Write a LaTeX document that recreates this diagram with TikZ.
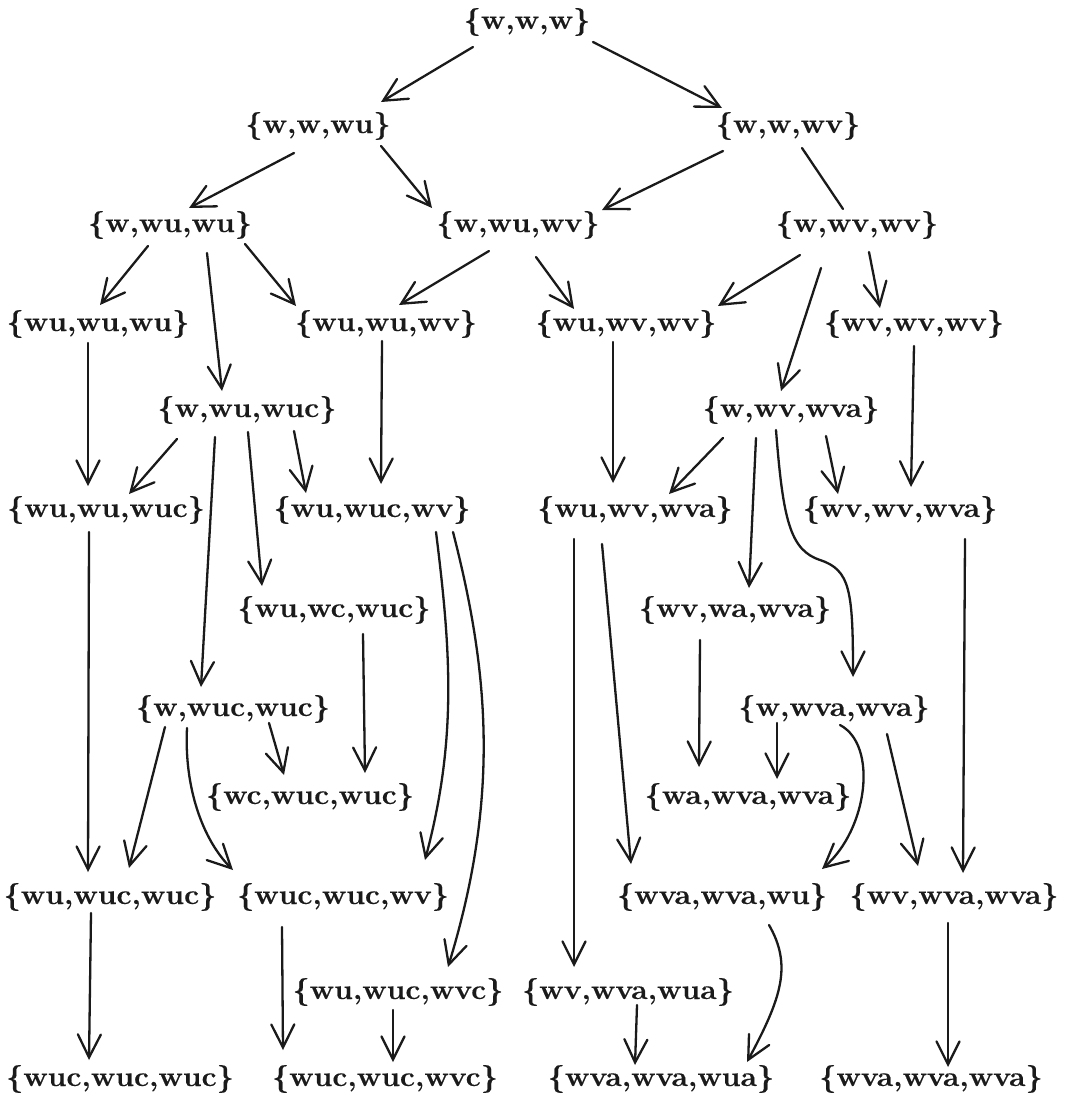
\documentclass[tikz,border=0pt]{standalone}
\usepackage{fontspec}
\setmainfont{Latin Modern Roman}[BoldFeatures={FakeStretch=1.08,FakeBold=0.4}]
\usetikzlibrary{arrows.meta}
\definecolor{ink}{HTML}{1A1A1A}
\begin{document}
\begin{tikzpicture}[x=1pt,y=-1pt,
  lab/.style={inner sep=0pt, text=ink, font=\fontsize{27.8}{30}\selectfont\bfseries},
  plain/.style={draw=ink, line width=2.3pt, line cap=round},
  ed/.style={plain, -{Straight Barb[length=23pt,width=23pt,line cap=round]}}]
\fill[white] (0,0) rectangle (1065,1102);
\useasboundingbox (0,0) rectangle (1065,1102);
% nodes
\node[lab] (www)       at (527,22)   {\{w,w,w\}};
\node[lab] (wwwu)      at (318,126)  {\{w,w,wu\}};
\node[lab] (wwwv)      at (788,126)  {\{w,w,wv\}};
\node[lab] (wwuwu)     at (170,225)  {\{w,wu,wu\}};
\node[lab] (wwuwv)     at (518,225)  {\{w,wu,wv\}};
\node[lab] (wwvwv)     at (857,225)  {\{w,wv,wv\}};
\node[lab] (wuwuwu)    at (98,324)   {\{wu,wu,wu\}};
\node[lab] (wuwuwv)    at (386,324)  {\{wu,wu,wv\}};
\node[lab] (wuwvwv)    at (626,324)  {\{wu,wv,wv\}};
\node[lab] (wvwvwv)    at (914,324)  {\{wv,wv,wv\}};
\node[lab] (wwuwuc)    at (247,410)  {\{w,wu,wuc\}};
\node[lab] (wwvwva)    at (791,410)  {\{w,wv,wva\}};
\node[lab] (wuwuwuc)   at (106,510)  {\{wu,wu,wuc\}};
\node[lab] (wuwucwv)   at (372,510)  {\{wu,wuc,wv\}};
\node[lab] (wuwvwva)   at (635,510)  {\{wu,wv,wva\}};
\node[lab] (wvwvwva)   at (900,510)  {\{wv,wv,wva\}};
\node[lab] (wuwcwuc)   at (334,610)  {\{wu,wc,wuc\}};
\node[lab] (wvwawva)   at (735,610)  {\{wv,wa,wva\}};
\node[lab] (wwucwuc)   at (233,709)  {\{w,wuc,wuc\}};
\node[lab] (wwvawva)   at (834,709)  {\{w,wva,wva\}};
\node[lab] (wcwucwuc)  at (310,797)  {\{wc,wuc,wuc\}};
\node[lab] (wawvawva)  at (748,797)  {\{wa,wva,wva\}};
\node[lab] (wuwucwuc)  at (110,897)  {\{wu,wuc,wuc\}};
\node[lab] (wucwucwv)  at (343,897)  {\{wuc,wuc,wv\}};
\node[lab] (wvawvawu)  at (722,897)  {\{wva,wva,wu\}};
\node[lab] (wvwvawva)  at (954,897)  {\{wv,wva,wva\}};
\node[lab] (wuwucwvc)  at (398,992)  {\{wu,wuc,wvc\}};
\node[lab] (wvwvawua)  at (628,992)  {\{wv,wva,wua\}};
\node[lab] (wucwucwuc) at (120,1079) {\{wuc,wuc,wuc\}};
\node[lab] (wucwucwvc) at (385,1079) {\{wuc,wuc,wvc\}};
\node[lab] (wvawvawua) at (661,1079) {\{wva,wva,wua\}};
\node[lab] (wvawvawva) at (931,1079) {\{wva,wva,wva\}};
\coordinate (sbend) at (820,560);
% edges
\draw[ed] ([shift={(-54,25)}]www.center) -- ([shift={(63,-24)}]wwwu.center);
\draw[ed] ([shift={(66,20)}]www.center) -- ([shift={(-66,-18)}]wwwv.center);
\draw[ed] ([shift={(-24,27)}]wwwu.center) -- ([shift={(19,-17)}]wwuwu.center);
\draw[ed] ([shift={(63,20)}]wwwu.center) -- ([shift={(-86,-17)}]wwuwv.center);
\draw[ed] ([shift={(-65,25)}]wwwv.center) -- ([shift={(84,-15)}]wwuwv.center);
\draw[plain] ([shift={(14,22)}]wwwv.center) -- ([shift={(-14,-16)}]wwvwv.center);
\draw[ed] ([shift={(-22,21)}]wwuwu.center) -- ([shift={(2,-19)}]wuwuwu.center);
\draw[ed] ([shift={(37,28)}]wwuwu.center) -- ([shift={(-25,-19)}]wwuwuc.center);
\draw[ed] ([shift={(75,19)}]wwuwu.center) -- ([shift={(-90,-18)}]wuwuwv.center);
\draw[ed] ([shift={(-29,26)}]wwuwv.center) -- ([shift={(13,-19)}]wuwuwv.center);
\draw[ed] ([shift={(18,32)}]wwuwv.center) -- ([shift={(-52,-15)}]wuwvwv.center);
\draw[ed] ([shift={(-57,30)}]wwvwv.center) -- ([shift={(92,-18)}]wuwvwv.center);
\draw[ed] ([shift={(-36,43)}]wwvwv.center) -- ([shift={(-10,-19)}]wwvwva.center);
\draw[ed] ([shift={(12,27)}]wwvwv.center) -- ([shift={(-34,-16)}]wvwvwv.center);
\draw[ed] ([shift={(-10,19)}]wuwuwu.center) -- ([shift={(-18,-24)}]wuwuwuc.center);
\draw[ed] ([shift={(-4,17)}]wuwuwv.center) -- ([shift={(9,-26)}]wuwucwv.center);
\draw[ed] ([shift={(-13,18)}]wuwvwv.center) -- ([shift={(-22,-27)}]wuwvwva.center);
\draw[ed] ([shift={(0,22)}]wvwvwv.center) -- ([shift={(11,-23)}]wvwvwva.center);
\draw[ed] ([shift={(-70,29)}]wwuwuc.center) -- ([shift={(23,-16)}]wuwuwuc.center);
\draw[ed] ([shift={(-32,27)}]wwuwuc.center) -- ([shift={(-32,-22)}]wwucwuc.center);
\draw[ed] ([shift={(1,22)}]wwuwuc.center) -- ([shift={(-72,-24)}]wuwcwuc.center);
\draw[ed] ([shift={(47,21)}]wwuwuc.center) -- ([shift={(-66,-17)}]wuwucwv.center);
\draw[ed] ([shift={(64,22)}]wuwucwv.center) .. controls +(15,120) and +(32,-120) .. ([shift={(82,-37)}]wucwucwv.center);
\draw[ed] ([shift={(81,22)}]wuwucwv.center) .. controls +(36,140) and +(52,-170) .. ([shift={(50,-25)}]wuwucwvc.center);
\draw[ed] ([shift={(29,24)}]wuwcwuc.center) -- ([shift={(55,-24)}]wcwucwuc.center);
\draw[ed] ([shift={(-68,18)}]wwucwuc.center) -- ([shift={(19,-29)}]wuwucwuc.center);
\draw[ed] ([shift={(-46,19)}]wwucwuc.center) .. controls +(-3,60) and +(-30,-30) .. ([shift={(-110,-27)}]wucwucwv.center);
\draw[ed] ([shift={(36,14)}]wwucwuc.center) -- ([shift={(-26,-22)}]wcwucwuc.center);
\draw[ed] ([shift={(-17,22)}]wuwuwuc.center) -- ([shift={(-22,-25)}]wuwucwuc.center);
\draw[ed] ([shift={(-19,16)}]wuwucwuc.center) -- ([shift={(-31,-19)}]wucwucwuc.center);
\draw[ed] ([shift={(-61,30)}]wucwucwv.center) -- ([shift={(-102,-29)}]wucwucwvc.center);
\draw[ed] ([shift={(-5,18)}]wuwucwvc.center) -- ([shift={(8,-17)}]wucwucwvc.center);
\draw[ed] ([shift={(-68,28)}]wwvwva.center) -- ([shift={(34,-16)}]wuwvwva.center);
\draw[ed] ([shift={(-35,28)}]wwvwva.center) -- ([shift={(14,-22)}]wvwawva.center);
\draw[ed] ([shift={(-15,20)}]wwvwva.center) .. controls +(7,90) and +(-30,-10) .. (sbend)
          .. controls +(30,10) and +(0,-87) .. ([shift={(19,-32)}]wwvawva.center);
\draw[ed] ([shift={(35,26)}]wwvwva.center) -- ([shift={(-62,-16)}]wvwvwva.center);
\draw[ed] ([shift={(-61,29)}]wuwvwva.center) -- ([shift={(-54,-25)}]wvwvawua.center);
\draw[ed] ([shift={(-33,34)}]wuwvwva.center) -- ([shift={(-91,-33)}]wvawvawu.center);
\draw[ed] ([shift={(65,29)}]wvwvwva.center) -- ([shift={(9,-24)}]wvwvawva.center);
\draw[ed] ([shift={(-35,30)}]wvwawva.center) -- ([shift={(-49,-30)}]wawvawva.center);
\draw[ed] ([shift={(-57,14)}]wwvawva.center) -- ([shift={(29,-18)}]wawvawva.center);
\draw[ed] ([shift={(6,16)}]wwvawva.center) .. controls +(38,20) and +(46,-40) .. ([shift={(100,-28)}]wvawvawu.center);
\draw[ed] ([shift={(53,25)}]wwvawva.center) -- ([shift={(-36,-31)}]wvwvawva.center);
\draw[ed] ([shift={(47,28)}]wvawvawu.center) .. controls +(23,40) and +(35,-65) .. ([shift={(86,-17)}]wvawvawua.center);
\draw[ed] ([shift={(9,13)}]wvwvawua.center) -- ([shift={(-26,-14)}]wvawvawua.center);
\draw[ed] ([shift={(-6,26)}]wvwvawva.center) -- ([shift={(17,-12)}]wvawvawva.center);
\end{tikzpicture}
\end{document}
